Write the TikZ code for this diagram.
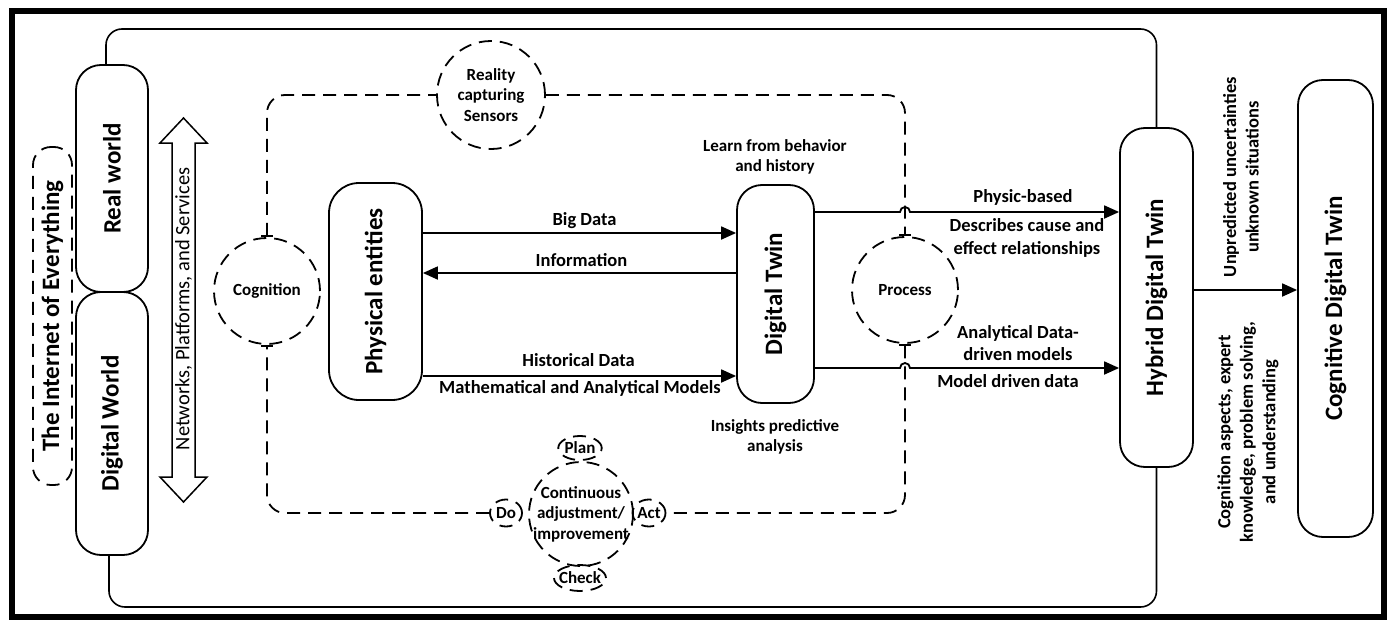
\documentclass[tikz,border=0pt]{standalone}
\usepackage{fontspec}
\setmainfont{Carlito}
\usepackage{graphicx}
\usetikzlibrary{arrows.meta,shapes.geometric}

\tikzset{
  box/.style={draw, line width=1.8pt, rounded corners=25pt, inner sep=0pt,
    font=\fontsize{25pt}{30pt}\selectfont\bfseries},
  dashline/.style={line width=1.8pt, dash pattern=on 13pt off 8pt},
  ring/.style={circle, draw, dashline, inner sep=0pt, align=center,
    font=\fontsize{17pt}{20.5pt}\selectfont\bfseries},
  tag/.style={ellipse, draw, dashline, inner sep=0pt,
    font=\fontsize{17pt}{20pt}\selectfont\bfseries},
  flow/.style={line width=1.8pt, -{Triangle[length=15pt,width=13pt]}},
  lbl/.style={align=center, inner sep=0pt,
    font=\fontsize{18.5pt}{22.5pt}\selectfont\bfseries},
  note/.style={align=center, inner sep=0pt,
    font=\fontsize{17pt}{20pt}\selectfont\bfseries},
  boundary/.style={dashline, rounded corners=18pt},
  rail/.style={line width=1.6pt, rounded corners=16pt},
}

\begin{document}
\begin{tikzpicture}[x=1pt,y=-1pt]
\useasboundingbox (0,0) rectangle (1392,621);
\fill[white] (0,0) rectangle (1392,621);
\draw[line width=5.5pt] (12,11) rectangle (1384,617);

% left column: IoE, real and digital worlds
\node[box, dashline, rounded corners=18pt, minimum width=39pt, minimum height=338pt]
  (ioe) at (52.5,316) {\rotatebox{90}{The Internet of Everything}};
\node[box, minimum width=72pt, minimum height=227pt] (rw) at (112,178.5)
  {\rotatebox{90}{Real world}};
\node[box, minimum width=72pt, minimum height=263pt] (dw) at (112,423.5)
  {\rotatebox{90}{Digital World}};

% hollow double arrow
\draw[line width=1.5pt, line join=miter]
  (183.5,118) -- (207,143) -- (195,143) -- (195,477) -- (207,477) -- (183.5,502)
  -- (160,477) -- (172,477) -- (172,143) -- (160,143) -- cycle;
\node[rotate=90, inner sep=0pt, font=\fontsize{20.5pt}{24pt}\selectfont]
  (nps) at (183.5,309) {Networks, Platforms, and Services};

% dashed rings on the cognition loop
\node[ring, minimum size=108pt] (rcs) at (491,95) {Reality\\capturing\\Sensors};
\node[ring, minimum size=106pt] (cog) at (267,291) {Cognition};
\node[ring, minimum size=106pt] (proc) at (905,290) {Process};
\node[ring, minimum size=104pt, inner sep=-6pt] (cont) at (581,514)
  {Continuous\\adjustment/\\improvement};

% PDCA tags
\node[tag, minimum width=42pt, minimum height=24pt] (plan) at (580,448) {Plan};
\node[tag, minimum width=32pt, minimum height=27pt] (do) at (506,513) {Do};
\node[tag, minimum width=32pt, minimum height=27pt] (act) at (649,513) {Act};
\node[tag, minimum width=52pt, minimum height=26pt, inner xsep=-3pt] (check) at (580,578) {Check};

% main boxes
\node[box, rounded corners=30pt, minimum width=93pt, minimum height=217pt]
  (pe) at (375.5,291.5) {\rotatebox{90}{Physical entities}};
\node[box, minimum width=77pt, minimum height=218pt] (dt) at (775.5,294)
  {\rotatebox{90}{Digital Twin}};
\node[box, minimum width=73pt, minimum height=339pt] (hdt) at (1156.5,297.5)
  {\rotatebox{90}{Hybrid Digital Twin}};
\node[box, minimum width=75pt, minimum height=457pt] (cdt) at (1335.5,308.5)
  {\rotatebox{90}{Cognitive Digital Twin}};

% outer rail joining the worlds to the hybrid twin
\coordinate (railtop) at (0,29);
\coordinate (railbot) at (0,607);
\coordinate (rwtop) at ([xshift=-6pt]rw.north);
\coordinate (dwbot) at ([xshift=-3pt]dw.south);
\draw[rail] (rwtop) -- (rwtop |- railtop) -- (hdt.north |- railtop) -- (hdt.north);
\draw[rail] (dwbot) -- (dwbot |- railbot) -- (hdt.south |- railbot) -- (hdt.south);

% dashed cognition loop
\draw[boundary, arrows={Bar[width=12pt]-}] (cog.north) |- (rcs.west);
\draw[boundary, arrows={-Bar[width=12pt]}] (rcs.east) -| (proc.north);
\draw[boundary, arrows={Bar[width=12pt]-}] (proc.south) |- (act.east);
\draw[boundary, arrows={-Bar[width=12pt]}] (do.west) -| (cog.south);

% flows between physical entities and the digital twin
\coordinate (ybig) at (0,233);
\coordinate (yinfo) at (0,273);
\coordinate (yhist) at (0,376);
\draw[flow] (pe.east |- ybig) -- (dt.west |- ybig);
\draw[flow] (dt.west |- yinfo) -- (pe.east |- yinfo);
\draw[flow] (pe.east |- yhist) -- (dt.west |- yhist);

% flows to the hybrid twin, hopping over the loop
\coordinate (yphys) at (0,212);
\coordinate (yanal) at (0,368);
\coordinate (hopA) at (proc.north |- yphys);
\coordinate (hopB) at (proc.south |- yanal);
\draw[flow] (dt.east |- yphys) -- ([xshift=-5pt]hopA)
  arc[start angle=180, end angle=0, radius=5pt] -- (hdt.west |- yphys);
\draw[flow] (dt.east |- yanal) -- ([xshift=-5pt]hopB)
  arc[start angle=180, end angle=0, radius=5pt] -- (hdt.west |- yanal);

% hybrid to cognitive
\coordinate (ycog) at (0,290);
\draw[flow] (hdt.east |- ycog) -- (cdt.west |- ycog);

% labels
\node[lbl] (t-big) at (584.5,221) {Big Data};
\node[lbl] (t-info) at (581.5,260) {Information};
\node[lbl] (t-hist) at (578.5,360) {Historical Data};
\node[lbl] (t-math) at (580,388) {Mathematical and Analytical Models};
\node[note] (t-learn) at (775,157) {Learn from behavior\\and history};
\node[note] (t-ins) at (775,437) {Insights predictive\\analysis};
\node[lbl] (t-phys) at (1023,197) {Physic-based};
\node[lbl] (t-cause) at (1027,238) {Describes cause and\\effect relationships};
\node[lbl] (t-anal) at (1018,343) {Analytical Data-\\driven models};
\node[lbl] (t-mdd) at (1008,381) {Model driven data};
\node[lbl, rotate=90] (t-unk) at (1241,177) {Unpredicted uncertainties\\unknown situations};
\node[lbl, rotate=90] (t-asp) at (1248,432) {Cognition aspects, expert\\knowledge, problem solving,\\and understanding};
\end{tikzpicture}
\end{document}
